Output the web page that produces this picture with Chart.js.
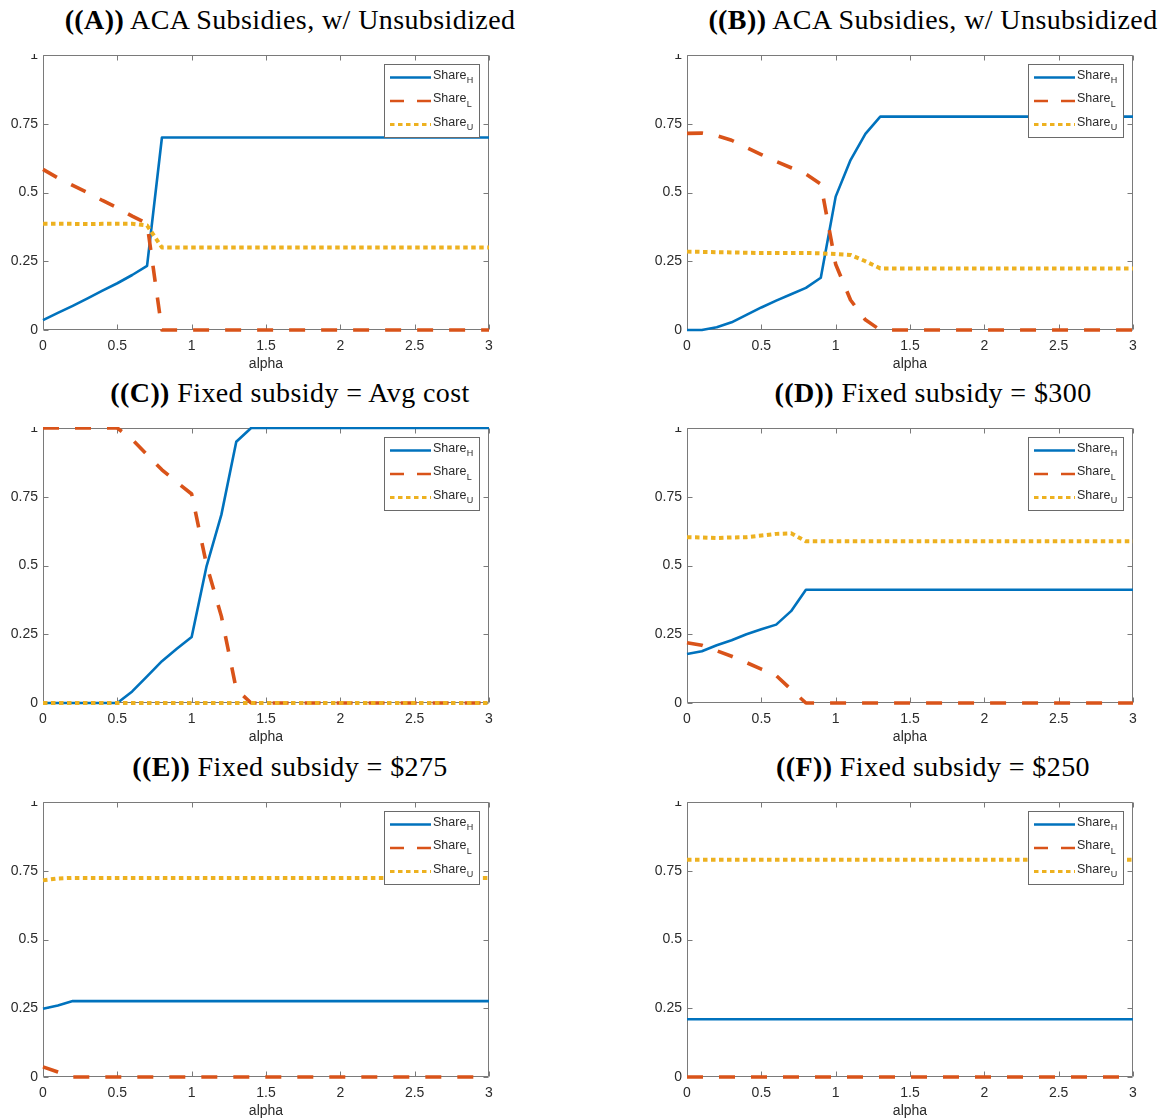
<!DOCTYPE html>
<html>
<head>
<meta charset="utf-8">
<script src="https://cdn.jsdelivr.net/npm/chart.js@4.4.1/dist/chart.umd.min.js"></script>
<style>
  html, body { margin: 0; padding: 0; background: #fff; overflow: hidden; width: 1165px; height: 1120px; }
  .title { position: absolute; white-space: nowrap; transform: translateX(-50%);
           font-family: "Liberation Serif", "Times New Roman", serif; font-size: 28px; letter-spacing: 0.4px;
           line-height: 30px; color: #000; }
  .title b { font-weight: bold; }
  .wrap { position: absolute; overflow: hidden; }
  canvas { display: block; }
</style>
</head>
<body>
<script>
// Shared horizontal grid of alpha values
const alpha = [0, 0.1, 0.2, 0.3, 0.4, 0.5, 0.6, 0.7, 0.8, 0.9, 1.0,
               1.1, 1.2, 1.3, 1.4, 1.5, 1.6, 1.7, 1.8, 1.9, 2.0,
               2.1, 2.2, 2.3, 2.4, 2.5, 2.6, 2.7, 2.8, 2.9, 3.0];

const xTicks = [0, 0.5, 1, 1.5, 2, 2.5, 3];
const yTicks = [0, 0.25, 0.5, 0.75, 1];

// (A) ACA subsidies, with unsubsidized option
const shareH_A = [0.036, 0.062, 0.088, 0.115, 0.143, 0.170, 0.200, 0.233, 0.700, 0.700, 0.700,
                  0.700, 0.700, 0.700, 0.700, 0.700, 0.700, 0.700, 0.700, 0.700, 0.700,
                  0.700, 0.700, 0.700, 0.700, 0.700, 0.700, 0.700, 0.700, 0.700, 0.700];
const shareL_A = [0.584, 0.553, 0.526, 0.500, 0.471, 0.444, 0.414, 0.387, 0, 0, 0,
                  0, 0, 0, 0, 0, 0, 0, 0, 0, 0,
                  0, 0, 0, 0, 0, 0, 0, 0, 0, 0];
const shareU_A = [0.386, 0.386, 0.386, 0.385, 0.386, 0.386, 0.386, 0.380, 0.300, 0.300, 0.300,
                  0.300, 0.300, 0.300, 0.300, 0.300, 0.300, 0.300, 0.300, 0.300, 0.300,
                  0.300, 0.300, 0.300, 0.300, 0.300, 0.300, 0.300, 0.300, 0.300, 0.300];

// (B) ACA subsidies, with unsubsidized option
const shareH_B = [0, 0, 0.010, 0.028, 0.055, 0.082, 0.107, 0.130, 0.153, 0.190, 0.485,
                  0.618, 0.713, 0.776, 0.776, 0.776, 0.776, 0.776, 0.776, 0.776, 0.776,
                  0.776, 0.776, 0.776, 0.776, 0.776, 0.776, 0.776, 0.776, 0.776, 0.776];
const shareL_B = [0.715, 0.716, 0.707, 0.690, 0.664, 0.638, 0.613, 0.590, 0.567, 0.531, 0.239,
                  0.109, 0.037, 0, 0, 0, 0, 0, 0, 0, 0,
                  0, 0, 0, 0, 0, 0, 0, 0, 0, 0];
const shareU_B = [0.285, 0.284, 0.283, 0.282, 0.281, 0.280, 0.280, 0.280, 0.280, 0.279, 0.276,
                  0.273, 0.250, 0.224, 0.224, 0.224, 0.224, 0.224, 0.224, 0.224, 0.224,
                  0.224, 0.224, 0.224, 0.224, 0.224, 0.224, 0.224, 0.224, 0.224, 0.224];

// (C) Fixed subsidy = average cost
const shareH_C = [0, 0, 0, 0, 0, 0, 0.042, 0.097, 0.152, 0.197, 0.240,
                  0.497, 0.685, 0.950, 1, 1, 1, 1, 1, 1, 1,
                  1, 1, 1, 1, 1, 1, 1, 1, 1, 1];
const shareL_C = [1, 1, 1, 1, 1, 1, 0.958, 0.903, 0.848, 0.803, 0.760,
                  0.503, 0.315, 0.050, 0, 0, 0, 0, 0, 0, 0,
                  0, 0, 0, 0, 0, 0, 0, 0, 0, 0];
const shareU_C = [0, 0, 0, 0, 0, 0, 0, 0, 0, 0, 0,
                  0, 0, 0, 0, 0, 0, 0, 0, 0, 0,
                  0, 0, 0, 0, 0, 0, 0, 0, 0, 0];

// (D) Fixed subsidy = $300
const shareH_D = [0.178, 0.188, 0.210, 0.228, 0.250, 0.268, 0.285, 0.334, 0.412, 0.412, 0.412,
                  0.412, 0.412, 0.412, 0.412, 0.412, 0.412, 0.412, 0.412, 0.412, 0.412,
                  0.412, 0.412, 0.412, 0.412, 0.412, 0.412, 0.412, 0.412, 0.412, 0.412];
const shareL_D = [0.219, 0.210, 0.190, 0.170, 0.147, 0.123, 0.100, 0.049, 0, 0, 0,
                  0, 0, 0, 0, 0, 0, 0, 0, 0, 0,
                  0, 0, 0, 0, 0, 0, 0, 0, 0, 0];
const shareU_D = [0.603, 0.602, 0.600, 0.602, 0.603, 0.609, 0.615, 0.617, 0.588, 0.588, 0.588,
                  0.588, 0.588, 0.588, 0.588, 0.588, 0.588, 0.588, 0.588, 0.588, 0.588,
                  0.588, 0.588, 0.588, 0.588, 0.588, 0.588, 0.588, 0.588, 0.588, 0.588];

// (E) Fixed subsidy = $275
const shareH_E = [0.248, 0.260, 0.276, 0.276, 0.276, 0.276, 0.276, 0.276, 0.276, 0.276, 0.276,
                  0.276, 0.276, 0.276, 0.276, 0.276, 0.276, 0.276, 0.276, 0.276, 0.276,
                  0.276, 0.276, 0.276, 0.276, 0.276, 0.276, 0.276, 0.276, 0.276, 0.276];
const shareL_E = [0.037, 0.018, 0, 0, 0, 0, 0, 0, 0, 0, 0,
                  0, 0, 0, 0, 0, 0, 0, 0, 0, 0,
                  0, 0, 0, 0, 0, 0, 0, 0, 0, 0];
const shareU_E = [0.715, 0.722, 0.724, 0.724, 0.724, 0.724, 0.724, 0.724, 0.724, 0.724, 0.724,
                  0.724, 0.724, 0.724, 0.724, 0.724, 0.724, 0.724, 0.724, 0.724, 0.724,
                  0.724, 0.724, 0.724, 0.724, 0.724, 0.724, 0.724, 0.724, 0.724, 0.724];

// (F) Fixed subsidy = $250
const shareH_F = [0.210, 0.210, 0.210, 0.210, 0.210, 0.210, 0.210, 0.210, 0.210, 0.210, 0.210,
                  0.210, 0.210, 0.210, 0.210, 0.210, 0.210, 0.210, 0.210, 0.210, 0.210,
                  0.210, 0.210, 0.210, 0.210, 0.210, 0.210, 0.210, 0.210, 0.210, 0.210];
const shareL_F = [0, 0, 0, 0, 0, 0, 0, 0, 0, 0, 0,
                  0, 0, 0, 0, 0, 0, 0, 0, 0, 0,
                  0, 0, 0, 0, 0, 0, 0, 0, 0, 0];
const shareU_F = [0.790, 0.790, 0.790, 0.790, 0.790, 0.790, 0.790, 0.790, 0.790, 0.790, 0.790,
                  0.790, 0.790, 0.790, 0.790, 0.790, 0.790, 0.790, 0.790, 0.790, 0.790,
                  0.790, 0.790, 0.790, 0.790, 0.790, 0.790, 0.790, 0.790, 0.790, 0.790];

const panelTags   = ['(A)', '(B)', '(C)', '(D)', '(E)', '(F)'];
const panelTitles = ['ACA Subsidies, w/ Unsubsidized', 'ACA Subsidies, w/ Unsubsidized',
                     'Fixed subsidy = Avg cost', 'Fixed subsidy = $300',
                     'Fixed subsidy = $275', 'Fixed subsidy = $250'];
const panelData = [
  [shareH_A, shareL_A, shareU_A],
  [shareH_B, shareL_B, shareU_B],
  [shareH_C, shareL_C, shareU_C],
  [shareH_D, shareL_D, shareU_D],
  [shareH_E, shareL_E, shareU_E],
  [shareH_F, shareL_F, shareU_F]
];

// Line styles for the three shares
const seriesStyle = [
  { sub: 'H', color: '#0072BD', width: 2.6, dash: [],         lw: 2.4, ldash: [],       order: 3 },
  { sub: 'L', color: '#D95319', width: 3.6, dash: [16, 16],   lw: 2.4, ldash: [14, 13], order: 2 },
  { sub: 'U', color: '#EDB120', width: 4,   dash: [4.5, 3.5], lw: 3,   ldash: [4.5, 3.5], order: 1 }
];

// Panel geometry (pixels)
const colPlotLeft = [43, 687];
const rowPlotTop  = [55, 428, 802];
const colTitleX   = [290, 933];
const plotW = 446, plotH = 275;
const yAxisW = 43, xAxisH = 44, canvasW = 510;
const axisColor = '#7a7a7a';
const textColor = '#2b2b2b';
const tickFont = { family: '"Liberation Sans", Arial, sans-serif', size: 14 };

// Box around the axes with inward ticks on all four sides
const framePlugin = {
  id: 'frame',
  beforeDatasetsDraw(chart) {
    const { ctx, chartArea: a, scales } = chart;
    const L = Math.round(a.left) + 0.5, R = Math.round(a.right) - 0.5;
    const T = Math.round(a.top) + 0.5, B = Math.round(a.bottom) - 0.5;
    ctx.save();
    ctx.strokeStyle = axisColor;
    ctx.lineWidth = 1;
    ctx.beginPath();
    ctx.rect(L, T, R - L, B - T);
    const tl = 5;
    xTicks.forEach(v => {
      const px = Math.round(scales.x.getPixelForValue(v)) + 0.5;
      ctx.moveTo(px, B); ctx.lineTo(px, B - tl);
      ctx.moveTo(px, T); ctx.lineTo(px, T + tl);
    });
    yTicks.forEach(v => {
      const py = Math.round(scales.y.getPixelForValue(v)) + 0.5;
      ctx.moveTo(L, py); ctx.lineTo(L + tl, py);
      ctx.moveTo(R, py); ctx.lineTo(R - tl, py);
    });
    ctx.stroke();
    ctx.restore();
  }
};

// Boxed legend in the upper-right corner with subscripted labels
const legendPlugin = {
  id: 'shareLegend',
  afterDatasetsDraw(chart) {
    const { ctx, chartArea: a } = chart;
    const w = 95, h = 73;
    const x0 = Math.round(a.right - 10 - w), y0 = Math.round(a.top + 9);
    ctx.save();
    ctx.fillStyle = '#ffffff';
    ctx.fillRect(x0, y0, w, h);
    ctx.strokeStyle = '#6a6a6a';
    ctx.lineWidth = 1;
    ctx.strokeRect(x0 + 0.5, y0 + 0.5, w, h);
    const rowY = [11.5, 35, 58.5];
    chart.data.datasets.forEach((ds, i) => {
      const ty = y0 + rowY[i];
      const ly = ty + 2;
      ctx.beginPath();
      ctx.strokeStyle = ds.borderColor;
      ctx.lineWidth = ds.legendWidth;
      ctx.setLineDash(ds.legendDash);
      ctx.lineCap = 'butt';
      ctx.moveTo(x0 + 6, ly);
      ctx.lineTo(x0 + 47, ly);
      ctx.stroke();
      ctx.setLineDash([]);
      ctx.fillStyle = textColor;
      ctx.textBaseline = 'middle';
      ctx.textAlign = 'left';
      ctx.font = '12.5px "Liberation Sans", Arial, sans-serif';
      const base = 'Share';
      ctx.fillText(base, x0 + 49, ty);
      const bw = ctx.measureText(base).width;
      ctx.font = '9px "Liberation Sans", Arial, sans-serif';
      ctx.fillText(ds.sub, x0 + 49 + bw + 0.5, ty + 5.5);
    });
    ctx.restore();
  }
};

function makePanel(i) {
  const col = i % 2, row = Math.floor(i / 2);
  const plotLeft = colPlotLeft[col], plotTop = rowPlotTop[row];

  const title = document.createElement('div');
  title.className = 'title';
  title.style.left = colTitleX[col] + 'px';
  title.style.top = (plotTop - 35 - 15) + 'px';
  const tag = document.createElement('b');
  tag.textContent = '(' + panelTags[i] + ')';
  title.appendChild(tag);
  title.appendChild(document.createTextNode(' ' + panelTitles[i]));
  document.body.appendChild(title);

  const canvasH = 1 + plotH + xAxisH;
  const wrap = document.createElement('div');
  wrap.className = 'wrap';
  wrap.style.left = (plotLeft - yAxisW) + 'px';
  wrap.style.top = (plotTop - 1) + 'px';
  wrap.style.width = canvasW + 'px';
  wrap.style.height = canvasH + 'px';
  const canvas = document.createElement('canvas');
  canvas.width = canvasW; canvas.height = canvasH;
  canvas.style.width = canvasW + 'px'; canvas.style.height = canvasH + 'px';
  wrap.appendChild(canvas);
  document.body.appendChild(wrap);

  const datasets = panelData[i].map((vals, k) => {
    const s = seriesStyle[k];
    return {
      label: 'Share' + s.sub,
      sub: s.sub,
      data: vals.map((v, j) => ({ x: alpha[j], y: v })),
      borderColor: s.color,
      borderWidth: s.width,
      borderDash: s.dash,
      borderCapStyle: 'butt',
      borderJoinStyle: 'round',
      legendWidth: s.lw,
      legendDash: s.ldash,
      pointRadius: 0,
      tension: 0,
      fill: false,
      clip: false,
      order: s.order
    };
  });

  new Chart(canvas, {
    type: 'line',
    data: { datasets },
    options: {
      responsive: false,
      animation: false,
      events: [],
      layout: { autoPadding: false, padding: { top: 1, left: 0, bottom: 0, right: canvasW - yAxisW - plotW } },
      plugins: { legend: { display: false }, tooltip: { enabled: false }, title: { display: false } },
      scales: {
        x: {
          type: 'linear', min: 0, max: 3,
          afterBuildTicks: s => { s.ticks = xTicks.map(v => ({ value: v })); },
          afterFit: s => { s.height = xAxisH; s.paddingLeft = 0; s.paddingRight = 0; },
          grid: { display: false, drawTicks: false },
          border: { display: false },
          ticks: { padding: 8, color: textColor, font: tickFont, maxRotation: 0, autoSkip: false,
                   callback: v => String(v) },
          title: { display: true, text: 'alpha', color: textColor, font: tickFont,
                   padding: { top: 0, bottom: 1.5 } }
        },
        y: {
          type: 'linear', min: 0, max: 1,
          afterBuildTicks: s => { s.ticks = yTicks.map(v => ({ value: v })); },
          afterFit: s => { s.width = yAxisW; s.paddingTop = 0; s.paddingBottom = 0; },
          grid: { display: false, drawTicks: false },
          border: { display: false },
          ticks: { padding: 5, color: textColor, font: tickFont, autoSkip: false,
                   callback: v => String(v) }
        }
      }
    },
    plugins: [framePlugin, legendPlugin]
  });
}

for (let i = 0; i < 6; i++) makePanel(i);
</script>
</body>
</html>
